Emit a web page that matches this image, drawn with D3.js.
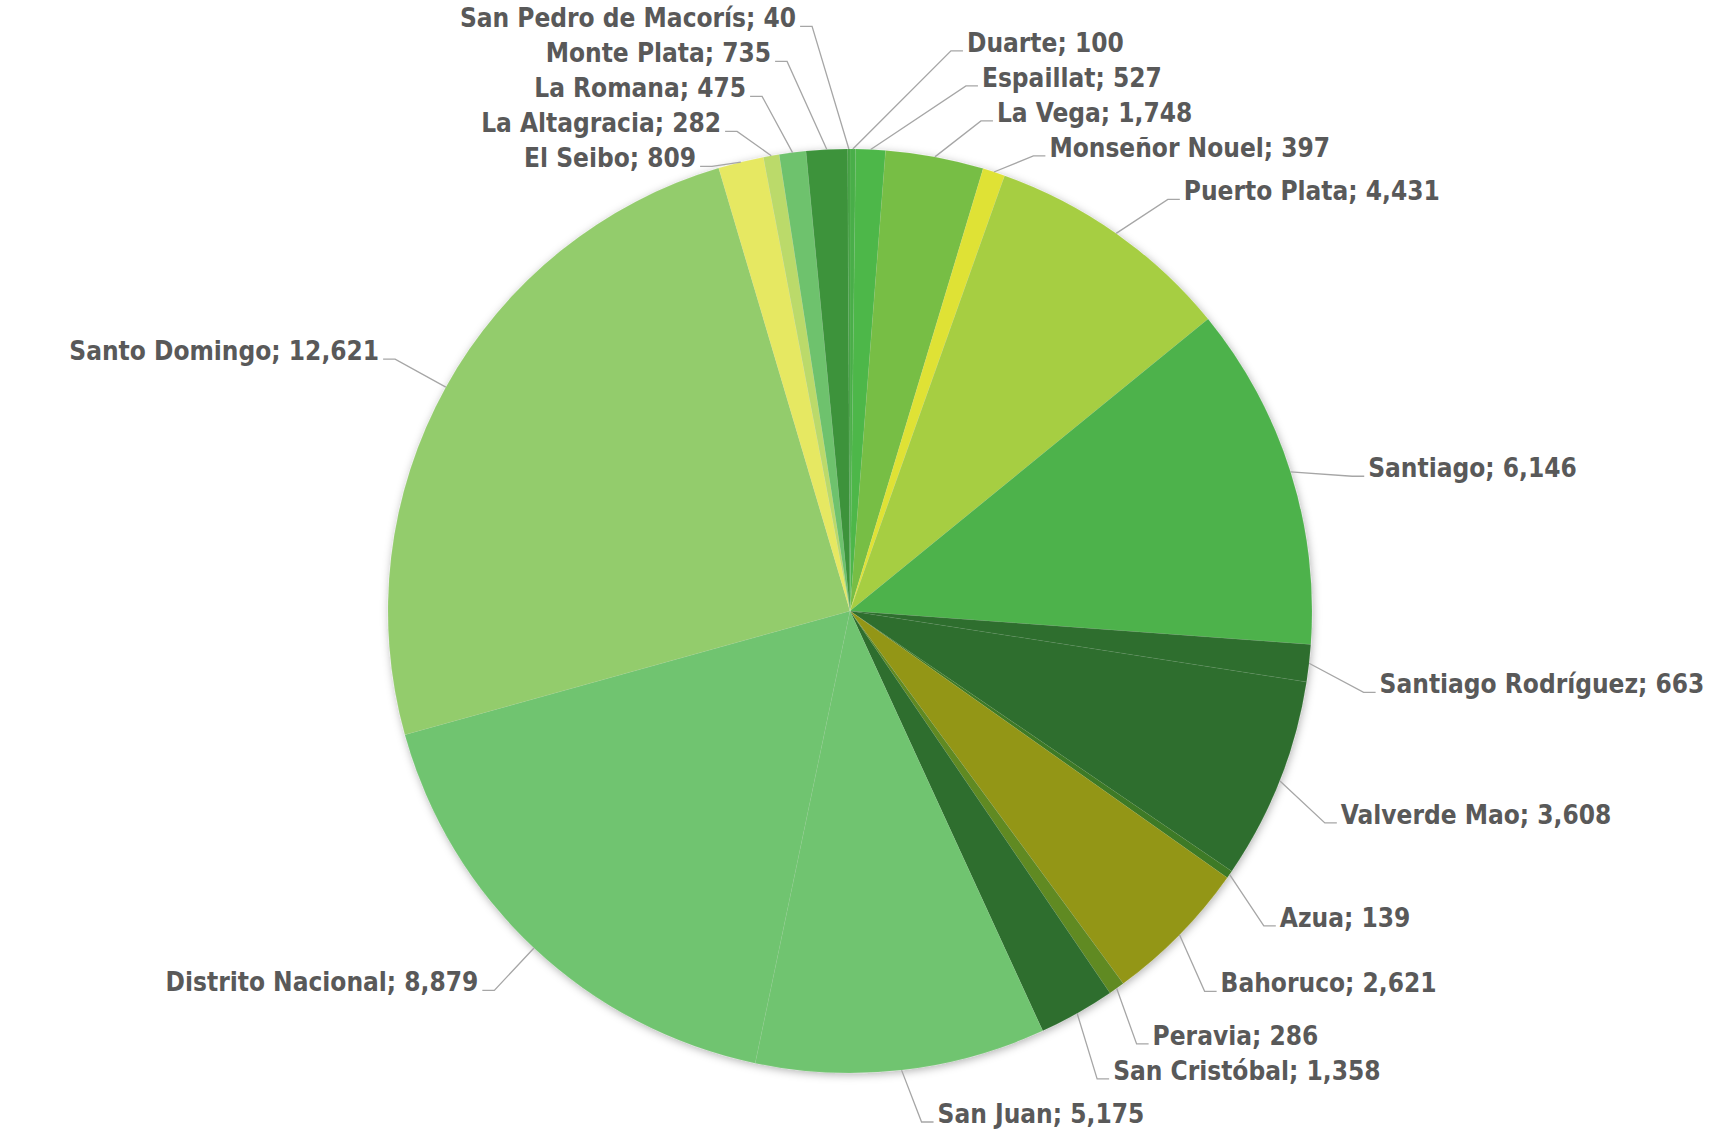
<!DOCTYPE html>
<html>
<head>
<meta charset="utf-8">
<script src="https://cdnjs.cloudflare.com/ajax/libs/d3/7.8.5/d3.min.js"></script>
<style>
  body { margin: 0; background: #fff; }
  svg { display: block; }
  .lbl { font-family: "DejaVu Sans Condensed", "DejaVu Sans", sans-serif; font-stretch: condensed; font-weight: bold; font-size: 26px; fill: #595959; }
</style>
</head>
<body>
<div id="chart"></div>
<script>
// provinces, clockwise from 12 o'clock
var provinces = ['Duarte', 'Espaillat', 'La Vega', 'Monseñor Nouel', 'Puerto Plata', 'Santiago',
  'Santiago Rodríguez', 'Valverde Mao', 'Azua', 'Bahoruco', 'Peravia', 'San Cristóbal', 'San Juan',
  'Distrito Nacional', 'Santo Domingo', 'El Seibo', 'La Altagracia', 'La Romana', 'Monte Plata',
  'San Pedro de Macorís'];
var values = [100, 527, 1748, 397, 4431, 6146, 663, 3608, 139, 2621, 286, 1358, 5175,
  8879, 12621, 809, 282, 475, 735, 40];
var colors = ['#49AE48', '#4DB749', '#77BE44', '#DFE236', '#A6CE42', '#4EB24C',
  '#2D6E2D', '#2D6E2D', '#3E7A25', '#939617', '#608A24', '#2D6E2D', '#70C46F',
  '#70C46F', '#93CC6C', '#E6E862', '#BBDA6B', '#6EC26D', '#3C933B', '#43A042'];

var data = provinces.map(function(p, i) { return { name: p, value: values[i], color: colors[i] }; });

var width = 1714, height = 1130,
  cx = 850, cy = 611, radius = 462;

var fmt = d3.format(',');

var svg = d3.select('#chart').append('svg')
  .attr('width', width)
  .attr('height', height);

var defs = svg.append('defs');
defs.append('filter')
  .attr('id', 'shadow')
  .attr('x', '-10%').attr('y', '-10%').attr('width', '120%').attr('height', '120%')
  .append('feDropShadow')
  .attr('dx', 1).attr('dy', 2)
  .attr('stdDeviation', 4)
  .attr('flood-color', '#000')
  .attr('flood-opacity', 0.3);

var g = svg.append('g').attr('transform', 'translate(' + cx + ',' + cy + ')');

var pie = d3.pie().sort(null).value(function(d) { return d.value; });
var arcs = pie(data);
var arc = d3.arc().innerRadius(0).outerRadius(radius);

g.append('g')
  .attr('filter', 'url(#shadow)')
  .selectAll('path')
  .data(arcs).enter()
  .append('path')
  .attr('d', arc)
  .attr('fill', function(d) { return d.data.color; })
  .attr('stroke', 'rgba(255,255,255,0.12)')
  .attr('stroke-width', 0.5);

// label layout: elbow on a ring, then push apart vertically on each side
var elbowR = radius + 58, gap = 35, seg = 12, minOut = 20,
  turnRight = 2.5 * Math.PI / 180,       // right-hand labels sit a little clockwise
  kRight = 1.0, kLeft = 0.3, stepRight = 15, stepLeft = 25,
  yMin = 26 - cy, yMax = height - 8 - cy;

var labels = arcs.map(function(a) {
  var mid = (a.startAngle + a.endAngle) / 2,
    right = Math.sin(mid) >= 0,
    la = right ? mid + turnRight : mid;
  return {
    d: a.data,
    right: right,
    ax: radius * Math.sin(mid), ay: -radius * Math.cos(mid),
    nx: elbowR * Math.sin(la), ny: -elbowR * Math.cos(la)
  };
});

function spread(items) {
  items.sort(function(p, q) { return p.ny - q.ny; });
  var groups = [];
  items.forEach(function(it) {
    groups.push({ items: [it], top: it.ny });
    while (groups.length > 1) {
      var last = groups[groups.length - 1], prev = groups[groups.length - 2];
      if (prev.top + prev.items.length * gap > last.top) {
        prev.items = prev.items.concat(last.items);
        prev.top = d3.mean(prev.items, function(d) { return d.ny; }) - (prev.items.length - 1) * gap / 2;
        groups.pop();
      } else break;
    }
  });
  groups.forEach(function(gr) {
    gr.items.forEach(function(it, i) { it.y = gr.top + i * gap; });
  });
  // keep inside the picture
  var lim = yMax;
  for (var i = items.length - 1; i >= 0; i--) {
    items[i].y = Math.min(items[i].y, lim);
    lim = items[i].y - gap;
  }
  lim = yMin;
  items.forEach(function(it) {
    it.y = Math.max(it.y, lim);
    lim = it.y + gap;
  });
}

['right', 'left'].forEach(function(side) {
  var items = labels.filter(function(l) { return side === 'right' ? l.right : !l.right; });
  spread(items);
  var k = side === 'right' ? kRight : kLeft;
  var prevX = null;
  items.forEach(function(it) {
    var push = it.y < 0 ? Math.max(minOut, Math.abs(it.y - it.ay) * k) : minOut;
    if (side === 'right') {
      it.x = Math.max(it.nx, it.ax + push);
      if (it.y < 0 && prevX !== null) it.x = Math.max(it.x, prevX + stepRight);
    } else {
      it.x = Math.min(it.nx, it.ax - push);
      if (it.y < 0 && prevX !== null) it.x = Math.min(it.x, prevX - stepLeft);
    }
    prevX = it.y < 0 ? it.x : null;
  });
});

var lg = g.append('g');

lg.selectAll('path.leader')
  .data(labels).enter()
  .append('path')
  .attr('class', 'leader')
  .attr('fill', 'none')
  .attr('stroke', '#A6A6A6')
  .attr('stroke-width', 1.3)
  .attr('d', function(l) {
    var ex = l.x + (l.right ? seg : -seg);
    return 'M' + l.ax + ',' + l.ay + 'L' + l.x + ',' + l.y + 'L' + ex + ',' + l.y;
  });

lg.selectAll('text.lbl')
  .data(labels).enter()
  .append('text')
  .attr('class', 'lbl')
  .attr('x', function(l) { return l.x + (l.right ? seg + 4 : -seg - 4); })
  .attr('y', function(l) { return l.y + 1; })
  .attr('text-anchor', function(l) { return l.right ? 'start' : 'end'; })
  .text(function(l) { return l.d.name + '; ' + fmt(l.d.value); });
</script>
</body>
</html>
